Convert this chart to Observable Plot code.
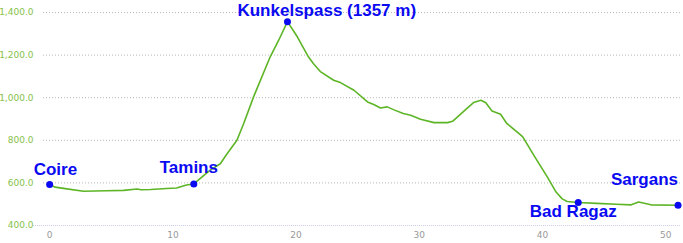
<!DOCTYPE html>
<html>
<head>
<meta charset="utf-8">
<script src="https://cdn.jsdelivr.net/npm/d3@7"></script>
<script src="https://cdn.jsdelivr.net/npm/@observablehq/plot@0.6"></script>
<style>
  html, body { margin: 0; padding: 0; background: #fff; }
  #chart svg { display: block; }
</style>
</head>
<body>
<div id="chart"></div>
<script>
// Elevation profile (distance in km, elevation in m)
const distance = [0, 0.45, 1.26, 2.75, 4.6, 6, 7.1, 7.4, 8.2, 9.5, 10.3, 11.1, 11.7, 13.0, 13.85, 14.4, 15.2, 15.75, 16.55, 17.9, 18.6, 19.3, 20.1, 21.0, 21.4, 22.0, 23.05, 23.6, 24.7, 25.8, 26.3, 26.85, 27.4, 27.9, 28.7, 29.3, 30.1, 31.2, 32.3, 32.7, 33.6, 34.4, 35.0, 35.4, 35.9, 36.6, 37.1, 38.1, 38.4, 39.3, 40.4, 41.1, 41.6, 42.0, 42.9, 44.4, 46.0, 47.2, 47.8, 48.8, 51.0];
const elevation = [593, 580, 573, 561, 563, 565, 571, 568, 569, 574, 576, 590, 595, 659, 690, 737, 800, 879, 1004, 1192, 1271, 1357, 1286, 1192, 1161, 1121, 1082, 1071, 1035, 980, 968, 952, 957, 944, 926, 918, 899, 883, 883, 889, 936, 977, 988, 976, 938, 922, 879, 831, 816, 729, 627, 557, 525, 513, 508, 504, 500, 497, 510, 497, 495];

// Named places
const placeNames = ["Coire", "Tamins", "Kunkelspass (1357 m)", "Bad Ragaz", "Sargans"];
const placeDistance = [0, 11.7, 19.3, 42.9, 51.0];
const placeElevation = [593, 595, 1357, 508, 495];

// Tick values
const yTicks = [400, 600, 800, 1000, 1200, 1400];
const xTicks = [0, 10, 20, 30, 40, 50];

const profile = distance.map((d, i) => ({d, e: elevation[i]}));
const places = placeNames.map((name, i) => ({name, d: placeDistance[i], e: placeElevation[i]}));

const labelStyle = {
  "Coire": {textAnchor: "start", dx: -16, dy: -9},
  "Tamins": {textAnchor: "middle", dx: -5, dy: -11},
  "Kunkelspass (1357 m)": {textAnchor: "start", dx: -50, dy: -6},
  "Bad Ragaz": {textAnchor: "middle", dx: -5, dy: 15},
  "Sargans": {textAnchor: "end", dx: 0, dy: -20}
};

const blue = "#0a0af2";

const labelMarks = places.map(p => Plot.text([p], {
  x: "d", y: "e", text: "name",
  lineAnchor: "bottom",
  fill: blue,
  fontSize: 17,
  fontWeight: "bold",
  fontFamily: "Liberation Sans, Arial, sans-serif",
  ...labelStyle[p.name]
}));

const chart = Plot.plot({
  width: 683,
  height: 243,
  marginLeft: 43,
  marginRight: 3,
  marginTop: 12,
  marginBottom: 18,
  style: {fontFamily: "DejaVu Sans, sans-serif", overflow: "visible", background: "#fff"},
  x: {domain: [-0.5, 51.2]},
  y: {domain: [400, 1400]},
  marks: [
    Plot.ruleY(yTicks.filter(v => v > 400), {stroke: "#b8b8b8", strokeDasharray: "1,2", strokeWidth: 1}),
    Plot.ruleY([400], {stroke: "#c8c8ee", strokeDasharray: "1,1", strokeWidth: 1, x1: -1.3, x2: 51.2}),
    Plot.axisY(yTicks, {
      tickSize: 0, tickPadding: 10, tickFormat: d3.format(",.1f"),
      fill: "#86c24a", fontSize: 9, label: null
    }),
    Plot.axisX(xTicks, {
      tickSize: 0, tickPadding: 6, fill: "#999", fontSize: 9, label: null
    }),
    Plot.line(profile, {x: "d", y: "e", stroke: "#5db526", strokeWidth: 1.6, curve: "linear"}),
    Plot.dot(places, {x: "d", y: "e", r: 3.5, fill: blue}),
    ...labelMarks
  ]
});
document.getElementById("chart").appendChild(chart);
</script>
</body>
</html>
